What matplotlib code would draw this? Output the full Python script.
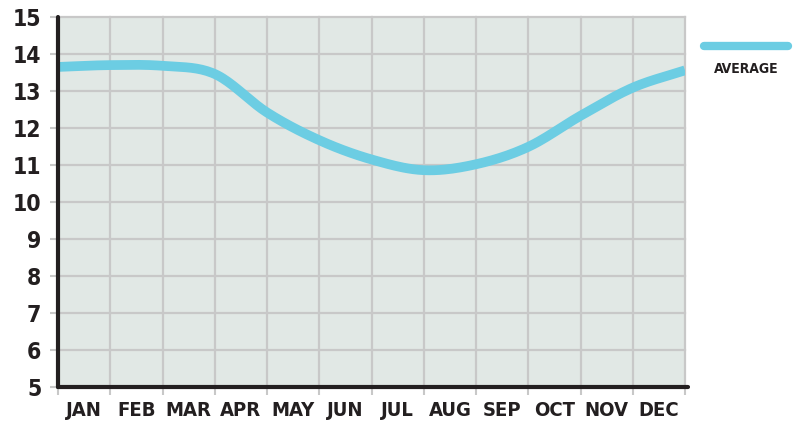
import matplotlib
matplotlib.use('Agg')
import matplotlib.pyplot as plt
import numpy as np

# month labels and the curve read at the month boundaries (0 = start of JAN, 12 = end of DEC)
months = ['JAN', 'FEB', 'MAR', 'APR', 'MAY', 'JUN', 'JUL', 'AUG', 'SEP', 'OCT', 'NOV', 'DEC']
edge_pos = list(range(13))
average = [13.65, 13.70, 13.68, 13.46, 12.42, 11.67, 11.15, 10.86, 11.02, 11.49, 12.33, 13.09, 13.56]
y_ticks = list(range(5, 16))

bg = '#e1e8e5'
grid_c = '#c8c8c8'
line_c = '#6ccde3'
dark = '#231f20'

plt.rcParams['font.family'] = ['DejaVu Sans']
plt.rcParams['font.stretch'] = 'condensed'
plt.rcParams['font.weight'] = 'bold'


def catmull(xs, ys, n=20):
    # smooth curve through the points, only for drawing
    xs = np.asarray(xs, float)
    ys = np.asarray(ys, float)
    px = np.concatenate([[2 * xs[0] - xs[1]], xs, [2 * xs[-1] - xs[-2]]])
    py = np.concatenate([[2 * ys[0] - ys[1]], ys, [2 * ys[-1] - ys[-2]]])
    ox, oy = [], []
    for i in range(1, len(px) - 2):
        t = np.linspace(0, 1, n, endpoint=False)
        for p, o in ((px, ox), (py, oy)):
            p0, p1, p2, p3 = p[i - 1], p[i], p[i + 1], p[i + 2]
            o.extend(0.5 * (2 * p1 + (-p0 + p2) * t + (2 * p0 - 5 * p1 + 4 * p2 - p3) * t ** 2
                            + (-p0 + 3 * p1 - 3 * p2 + p3) * t ** 3))
    ox.append(xs[-1])
    oy.append(ys[-1])
    return ox, oy


fig = plt.figure(figsize=(7.93, 4.25), dpi=100)
ax = fig.add_axes([58 / 793, 38 / 425, 627 / 793, 370 / 425])
ax.set_facecolor(bg)
ax.set_xlim(0, 12)
ax.set_ylim(5, 15)

ax.set_xticks(edge_pos)
ax.set_xticklabels([])
ax.set_xticks(np.arange(12) + 0.5, minor=True)
ax.set_xticklabels(months, minor=True, fontsize=14.5, color=dark)
ax.set_yticks(y_ticks)
ax.set_yticklabels([str(v) for v in y_ticks], fontsize=16.5, color=dark)

ax.tick_params(which='major', length=6, width=1.5, color=grid_c, pad=6)
ax.tick_params(axis='x', which='minor', length=0, pad=10)
ax.grid(True, which='major', color=grid_c, linewidth=1.6)
ax.set_axisbelow(True)
for gl in ax.get_xgridlines() + ax.get_ygridlines():
    gl.set_clip_on(False)
for s in ax.spines.values():
    s.set_visible(False)

sx, sy = catmull(edge_pos, average)
ax.plot(sx, sy, color=line_c, linewidth=7, solid_capstyle='butt', zorder=3)

# heavy axis lines
ax.plot([0, 0], [0, 1], transform=ax.transAxes, color=dark, linewidth=3,
        solid_capstyle='round', clip_on=False, zorder=4)
ax.plot([0, 1.005], [0, 0], transform=ax.transAxes, color=dark, linewidth=3,
        solid_capstyle='round', clip_on=False, zorder=4)

# legend
fig.add_artist(plt.Line2D([704 / 793, 788 / 793], [1 - 46 / 425, 1 - 46 / 425],
                          color=line_c, linewidth=6, solid_capstyle='round'))
fig.text(746 / 793, 1 - 69 / 425, 'AVERAGE', ha='center', va='center',
         fontsize=10, color=dark)

fig.savefig('out.png', dpi=100)
